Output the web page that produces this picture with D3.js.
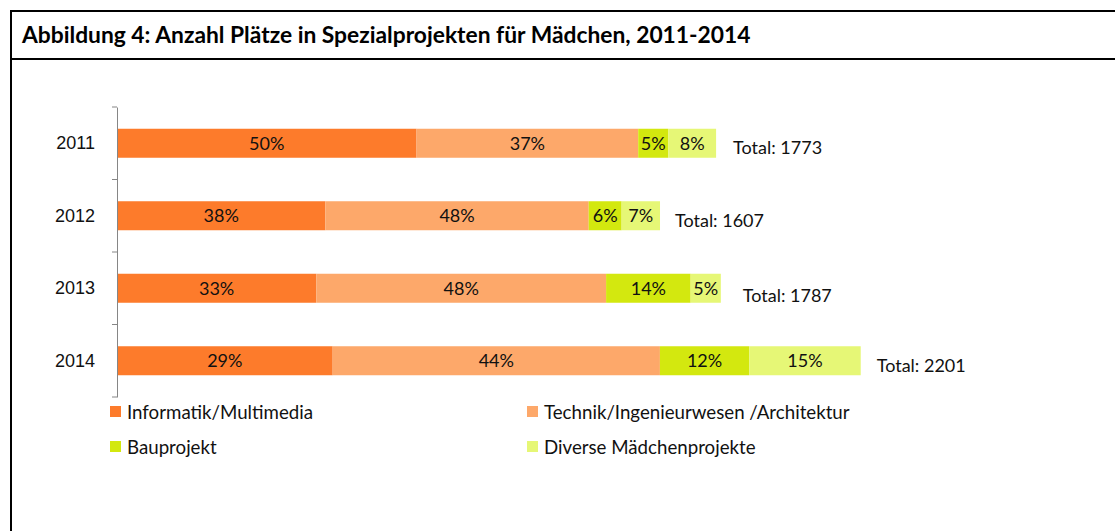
<!DOCTYPE html>
<html>
<head>
<meta charset="utf-8">
<script src="https://cdn.jsdelivr.net/npm/d3@7"></script>
<style>
  body { margin: 0; background: #fff; }
  svg { display: block; font-family: Lato, "Open Sans", sans-serif; }
</style>
</head>
<body>
<script>
const years = ["2011", "2012", "2013", "2014"];
const totals = [1773, 1607, 1787, 2201];
const seriesNames = ["Informatik/Multimedia", "Technik/Ingenieurwesen /Architektur", "Bauprojekt", "Diverse Mädchenprojekte"];
const seriesColors = ["#fd7b2b", "#fda86a", "#d3e80f", "#e6f776"];
// percentage shares per year, in series order
const shares = [
    [50, 37, 5, 8],
    [38, 48, 6, 7],
    [33, 48, 14, 5],
    [29, 44, 12, 15]
];

const width = 1115, height = 531;

const svg = d3.select("body")
    .append("svg")
    .attr("width", width)
    .attr("height", height);

// frame
svg.append("line").attr("x1", 11).attr("x2", width).attr("y1", 11).attr("y2", 11)
    .attr("stroke", "#000").attr("stroke-width", 2);
svg.append("line").attr("x1", 11).attr("x2", width).attr("y1", 59).attr("y2", 59)
    .attr("stroke", "#000").attr("stroke-width", 2);
svg.append("line").attr("x1", 11).attr("x2", 11).attr("y1", 10).attr("y2", height)
    .attr("stroke", "#000").attr("stroke-width", 2);

svg.append("text")
    .attr("x", 22)
    .attr("y", 43)
    .style("font-size", "22.8px")
    .style("font-weight", "bold")
    .text("Abbildung 4: Anzahl Plätze in Spezialprojekten für Mädchen, 2011-2014");

// scales
const x = d3.scaleLinear().domain([0, 2500]).range([117, 117 + 2500 * 0.3379]);
const y = d3.scaleBand().domain(years).range([107, 397]).paddingInner(0.6).paddingOuter(0.3);

// build stacked segments
const rows = years.map((yr, i) => {
    const sum = d3.sum(shares[i]);
    let acc = 0;
    return shares[i].map((p, j) => {
        const v0 = acc;
        acc += totals[i] * p / sum;
        return { year: yr, series: j, pct: p, v0: v0, v1: acc };
    });
});

const bars = svg.append("g").attr("class", "bars");
bars.selectAll("rect")
    .data(rows.flat())
    .enter()
    .append("rect")
    .attr("x", d => x(d.v0))
    .attr("y", d => y(d.year))
    .attr("width", d => x(d.v1) - x(d.v0))
    .attr("height", y.bandwidth())
    .attr("fill", d => seriesColors[d.series]);

bars.selectAll("text.pct")
    .data(rows.flat())
    .enter()
    .append("text")
    .attr("class", "pct")
    .attr("x", d => (x(d.v0) + x(d.v1)) / 2)
    .attr("y", d => y(d.year) + y.bandwidth() / 2)
    .attr("dy", "0.36em")
    .attr("text-anchor", "middle")
    .style("font-size", "18px")
    .style("fill", "#111")
    .text(d => d.pct + "%");

// totals
const totalOffsets = [17, 15, 22, 16];
const totalDy = [4, 5, 7, 5];
svg.append("g").selectAll("text")
    .data(years)
    .enter()
    .append("text")
    .attr("x", (d, i) => x(totals[i]) + totalOffsets[i])
    .attr("y", (d, i) => y(d) + y.bandwidth() / 2 + totalDy[i])
    .attr("dy", "0.36em")
    .style("font-size", "18px")
    .style("fill", "#111")
    .text((d, i) => "Total: " + totals[i]);

// y axis
const axis = svg.append("g")
    .attr("transform", "translate(117,0)")
    .call(d3.axisLeft(y).tickSize(0).tickPadding(22));
axis.select(".domain").attr("stroke", "#868686");
axis.selectAll("text").style("font-size", "18px").style("fill", "#111").attr("font-family", null);

const step = y.step();
svg.append("g").selectAll("line")
    .data(d3.range(years.length + 1))
    .enter()
    .append("line")
    .attr("x1", 112).attr("x2", 117)
    .attr("y1", i => 107 + i * step)
    .attr("y2", i => 107 + i * step)
    .attr("stroke", "#868686");

// legend
const legendPos = [[110, 412], [527, 412], [110, 447], [527, 447]];
const legend = svg.append("g").selectAll("g")
    .data(seriesNames)
    .enter()
    .append("g")
    .attr("transform", (d, i) => `translate(${legendPos[i][0]},${legendPos[i][1]})`);
legend.append("rect")
    .attr("x", 0).attr("y", -6)
    .attr("width", 11).attr("height", 11)
    .attr("fill", (d, i) => seriesColors[i]);
legend.append("text")
    .attr("x", 17)
    .attr("dy", "0.36em")
    .style("font-size", "18.7px")
    .style("fill", "#111")
    .text(d => d);
</script>
</body>
</html>
